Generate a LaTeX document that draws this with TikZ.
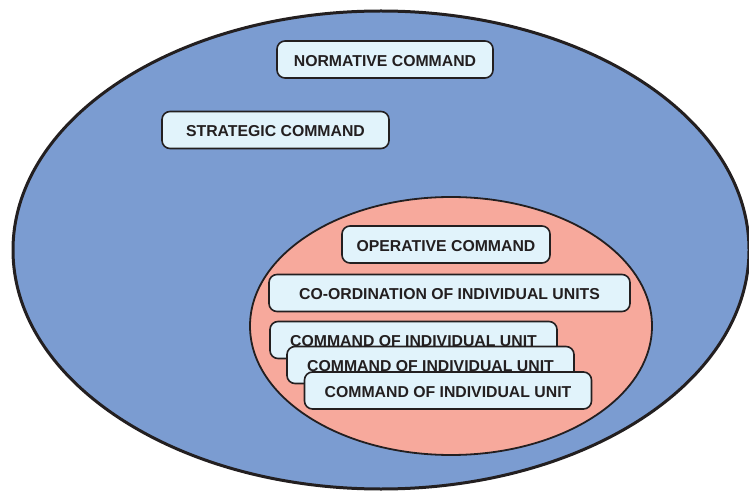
\documentclass[tikz,border=0pt]{standalone}
\usepackage{fontspec}
\newfontfamily\labelfont{Liberation Sans}
\usepackage{tikz}
\usetikzlibrary{positioning}
\definecolor{couter}{HTML}{7B9CD1}
\definecolor{cinner}{HTML}{F7A99C}
\definecolor{cbox}{HTML}{E1F3FB}
\definecolor{cline}{HTML}{231F20}
\tikzset{
  level/.style={draw=cline, line width=1.6pt, rounded corners=8pt, fill=cbox, minimum height=37pt, inner sep=0pt, text height=13.3pt, text depth=0pt, text=cline, font=\labelfont\bfseries\fontsize{15.8}{18}\selectfont},
  unitbox/.style={level, minimum width=287pt},
  zone/.style={draw=cline},
}
\begin{document}
\begin{tikzpicture}[x=1pt,y=-1pt]
\useasboundingbox (0,0) rectangle (749,494);
% ---------------- command zones
\draw[zone, fill=couter, line width=3pt] (381,250) ellipse [x radius=368, y radius=239];
\draw[zone, fill=cinner, line width=1.8pt] (451,326) ellipse [x radius=201, y radius=129];
% ---------------- upper levels
\node[level, minimum width=216pt] (normative) at (385,59.5) {NORMATIVE COMMAND};
\node[level, minimum width=227pt] (strategic) at (275.5,130) {STRATEGIC COMMAND};
% ---------------- operative level
\node[level, minimum width=208pt] (operative) at (446,244.5) {OPERATIVE COMMAND};
\node[level, minimum width=361pt] (coord) at (449.5,293) {CO-ORDINATION OF INDIVIDUAL UNITS};
\foreach \i/\x/\y in {1/413.5/340, 2/430.5/365, 3/448/390.5} {
  \node[unitbox] (unit\i) at (\x,\y) {COMMAND OF INDIVIDUAL UNIT};
}
\end{tikzpicture}
\end{document}
